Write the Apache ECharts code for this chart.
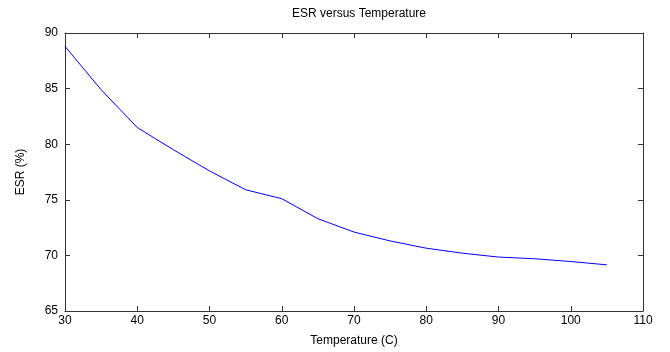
<!DOCTYPE html>
<html>
<head>
<meta charset="utf-8">
<script src="https://cdn.jsdelivr.net/npm/echarts@6/dist/echarts.min.js"></script>
<style>
  html, body { margin: 0; padding: 0; background: #fff; }
  #chart { width: 670px; height: 352px; }
</style>
</head>
<body>
<div id="chart"></div>
<script>
// 温度 (C)
var temperature = [30, 35, 40, 45, 50, 55, 60, 65, 70, 75, 80, 85, 90, 95, 100, 105];
// ESR (%)
var esr = [88.8, 84.9, 81.5, 79.5, 77.6, 75.9, 75.1, 73.3, 72.1, 71.3, 70.65, 70.2, 69.85, 69.7, 69.45, 69.15];

var chart = echarts.init(document.getElementById("chart"));

var font = "Liberation Sans, Arial, sans-serif";
var axisColor = "#333";

// 坐标轴公共样式 (MATLAB 风格，刻度朝内)
function boxAxis(extra) {
  return Object.assign({
    type: "value",
    axisLine: { show: true, lineStyle: { color: axisColor, width: 1 } },
    axisTick: { show: true, inside: true, length: 5, lineStyle: { color: axisColor } },
    splitLine: { show: false },
    axisLabel: { color: "#000", fontSize: 12, fontFamily: font }
  }, extra);
}

var option = {
  backgroundColor: "#fff",
  animation: false,
  title: {
    text: "ESR versus Temperature",
    left: 354,
    textAlign: "center",
    top: 3,
    textStyle: { color: "#000", fontSize: 12, fontWeight: "normal", fontFamily: font }
  },
  grid: { left: 65, right: 27, top: 33, bottom: 40 },
  xAxis: [
    boxAxis({
      min: 30, max: 110, interval: 10,
      name: "Temperature (C)",
      nameLocation: "middle",
      nameGap: 24,
      nameTextStyle: { color: "#000", fontSize: 12, fontFamily: font },
      axisLabel: { color: "#000", fontSize: 12, fontFamily: font, margin: 4 }
    }),
    boxAxis({
      min: 30, max: 110, interval: 10, position: "top",
      axisLabel: { show: false }
    })
  ],
  yAxis: [
    boxAxis({
      min: 65, max: 90, interval: 5,
      name: "ESR (%)",
      nameLocation: "middle",
      nameGap: 38,
      nameTextStyle: { color: "#000", fontSize: 12, fontFamily: font },
      axisLabel: { color: "#000", fontSize: 12, fontFamily: font, margin: 7 }
    }),
    boxAxis({
      min: 65, max: 90, interval: 5, position: "right",
      axisLabel: { show: false }
    })
  ],
  series: [
    {
      type: "line",
      data: temperature.map(function (t, i) { return [t, esr[i]]; }),
      showSymbol: false,
      smooth: false,
      lineStyle: { color: "#0000ff", width: 1 },
      itemStyle: { color: "#0000ff" }
    }
  ]
};

chart.setOption(option);
</script>
</body>
</html>
